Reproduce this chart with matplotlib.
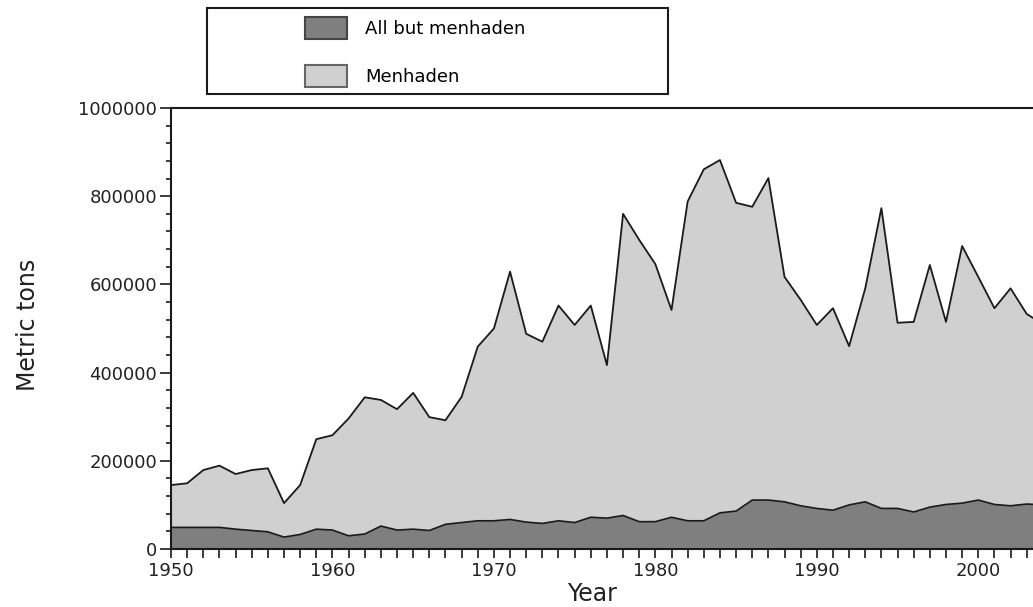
import numpy as np
import matplotlib
matplotlib.use("Agg")
import matplotlib.pyplot as plt
from matplotlib.patches import Rectangle, Patch
from matplotlib.ticker import MultipleLocator

# landings, thousands of metric tons
years = np.arange(1950, 2005)
other = [49, 49, 49, 49, 45, 42, 39, 27, 33, 45,
         43, 30, 34, 52, 43, 45, 42, 56, 60, 64,
         64, 67, 61, 58, 64, 60, 72, 70, 76, 62,
         62, 72, 64, 64, 82, 86, 111, 111, 107, 98,
         92, 88, 100, 107, 92, 92, 84, 95, 101, 104,
         111, 101, 98, 102, 100]
menhaden = [96, 100, 130, 140, 125, 137, 144, 77, 112, 204,
            215, 266, 310, 286, 274, 309, 257, 236, 285, 395,
            436, 562, 427, 412, 488, 448, 480, 347, 684, 639,
            584, 470, 724, 797, 800, 699, 665, 730, 510, 467,
            416, 458, 360, 484, 681, 421, 431, 549, 414, 583,
            506, 445, 493, 431, 410]
labels = ["All but menhaden", "Menhaden"]

other = np.array(other) * 1000
menhaden = np.array(menhaden) * 1000

dark = "#7f7f7f"
light = "#d0d0d0"
ink = "#1a1a1a"

plt.rcParams["font.family"] = ["DejaVu Sans"]

fig = plt.figure(figsize=(10.33, 6.07), dpi=100)
# axes run past the right edge of the figure, as in the cropped original
ax = fig.add_axes([171 / 1033, 58 / 607, 888 / 1033, 441 / 607])

ax.stackplot(years, other, menhaden, colors=[dark, light], linewidth=0)
ax.plot(years, other, color=ink, lw=1.2)
ax.plot(years, other + menhaden, color=ink, lw=1.3)

ax.set_xlim(1950, 2005)
ax.set_ylim(0, 1000000)

ax.xaxis.set_major_locator(MultipleLocator(10))
ax.xaxis.set_minor_locator(MultipleLocator(1))
ax.yaxis.set_major_locator(MultipleLocator(200000))
ax.yaxis.set_minor_locator(MultipleLocator(40000))
ax.ticklabel_format(style="plain", axis="y")

ax.tick_params(axis="x", which="both", direction="out", length=6.5, width=1.2,
               color=ink, labelsize=13, labelcolor="#222222", pad=3)
ax.tick_params(axis="y", which="major", direction="out", length=8, width=1.2,
               color=ink, labelsize=13, labelcolor="#222222", pad=2)
ax.tick_params(axis="y", which="minor", direction="out", length=3.6, width=1.2,
               color=ink)

for side in ["left", "top", "bottom"]:
    ax.spines[side].set_color(ink)
    ax.spines[side].set_linewidth(1.5)
ax.spines["right"].set_visible(False)

ax.set_xlabel("Year", fontsize=17, color="#222222")
ax.xaxis.set_label_coords(0.474, -0.074)
ax.set_ylabel("Metric tons", fontsize=17, color="#222222")
ax.yaxis.set_label_coords(-0.147, 0.508)

# legend box sits above the plot
fig.patches.append(Rectangle((207 / 1033, 1 - 94 / 607), 461 / 1033, 86 / 607,
                             transform=fig.transFigure, fill=False,
                             edgecolor=ink, lw=1.5))
handles = [Patch(facecolor=dark, edgecolor="#444444", lw=1.5),
           Patch(facecolor=light, edgecolor="#666666", lw=1.5)]
fig.legend(handles, labels, loc="upper left",
           bbox_to_anchor=(305 / 1033, 1 - 17 / 607),
           frameon=False, fontsize=13, borderpad=0, borderaxespad=0,
           handlelength=2.33, handleheight=1.5, handletextpad=1.0,
           labelspacing=1.45)

fig.savefig("out.png", dpi=100)
